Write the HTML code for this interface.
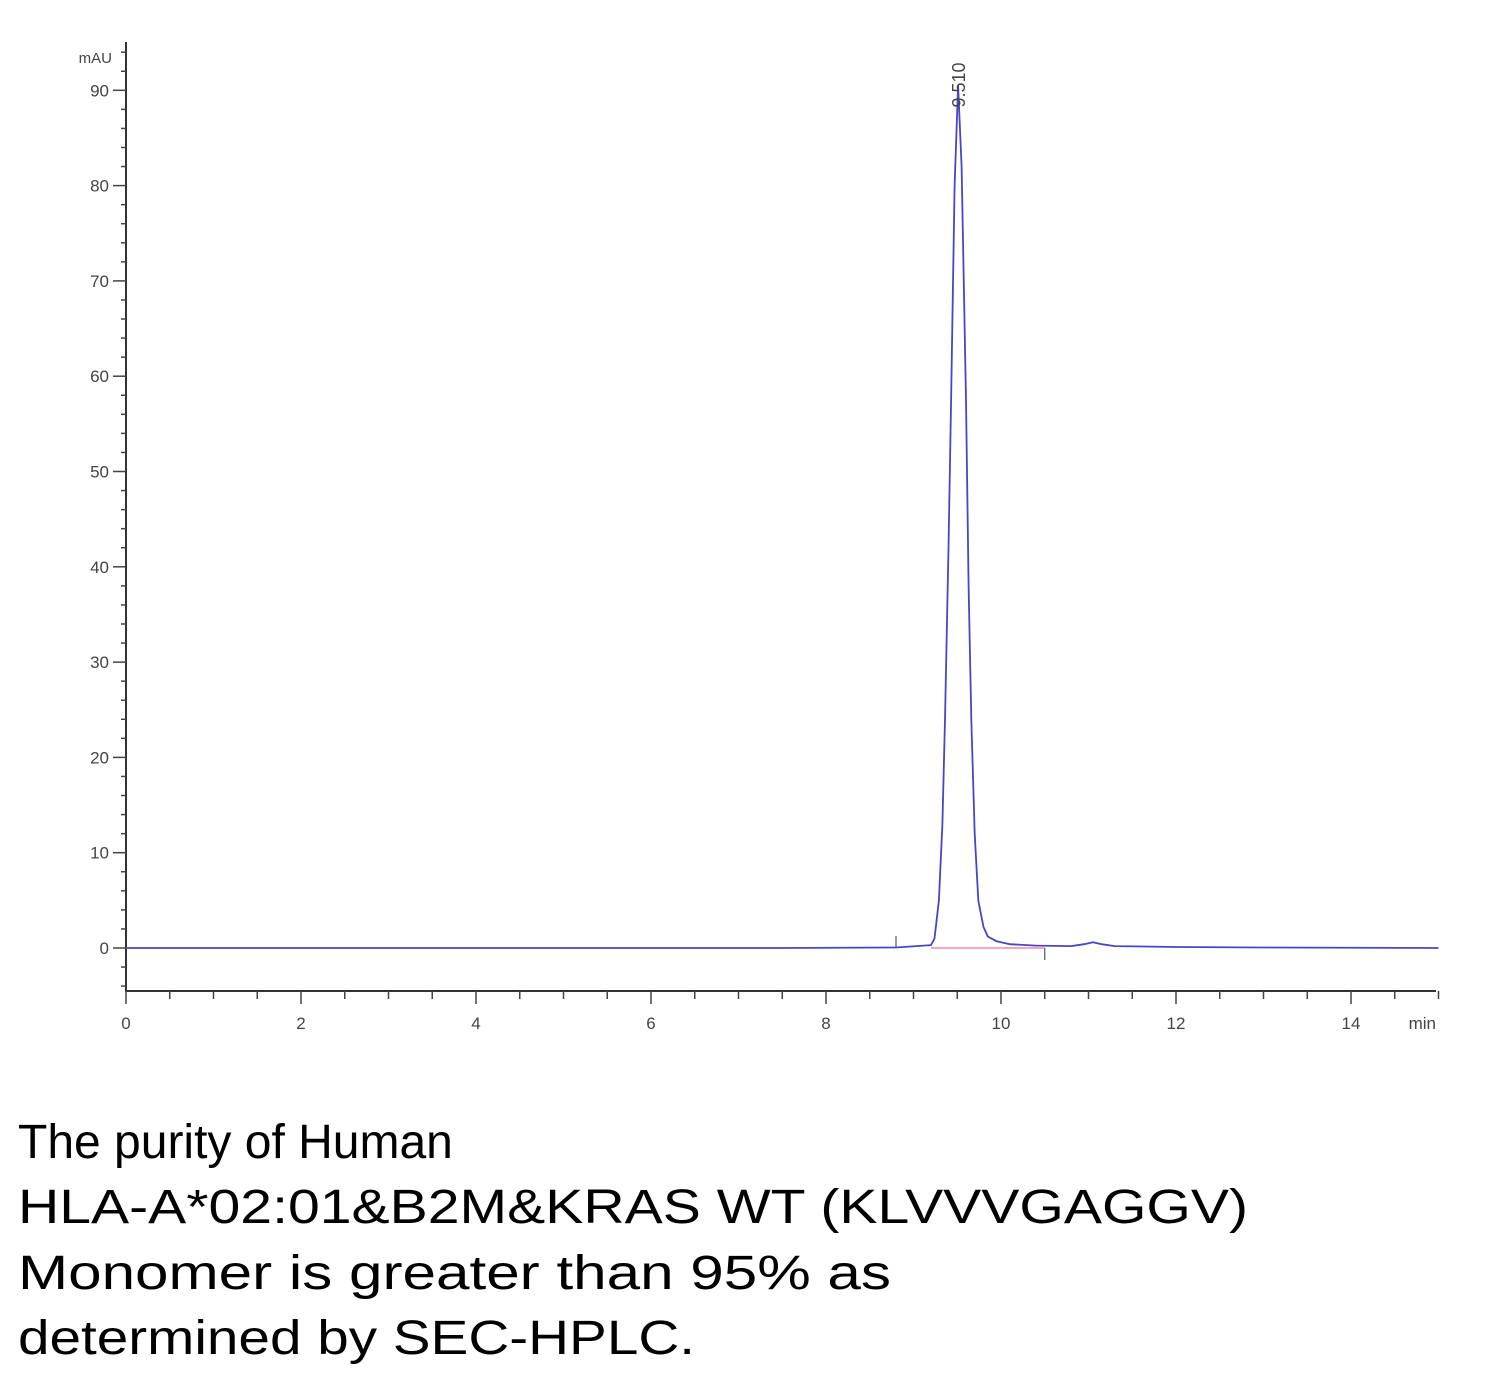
<!DOCTYPE html>
<html><head><meta charset="utf-8"><style>
body{margin:0;background:#fff;width:1500px;height:1384px;overflow:hidden}
svg{display:block}
</style></head><body>
<svg id="chart" width="1500" height="1384" xmlns="http://www.w3.org/2000/svg">
<g id="axes"></g>
<g id="plot"></g>
<g font-family="Liberation Sans, sans-serif" font-size="48" fill="#000">
<text x="18" y="1158">The purity of Human</text>
<text x="18" y="1223" textLength="1230" lengthAdjust="spacingAndGlyphs">HLA-A*02:01&amp;B2M&amp;KRAS WT (KLVVVGAGGV)</text>
<text x="18" y="1289" textLength="873" lengthAdjust="spacingAndGlyphs">Monomer is greater than 95% as</text>
<text x="18" y="1354" textLength="677" lengthAdjust="spacingAndGlyphs">determined by SEC-HPLC.</text>
</g>
</svg>
<script>
const times=[0,7.5,8.8,9.2,9.24,9.29,9.33,9.36,9.4,9.43,9.47,9.51,9.55,9.6,9.63,9.66,9.7,9.74,9.8,9.85,9.95,10.1,10.4,10.8,10.95,11.05,11.15,11.3,12,13,15];
const mAU=[0,0,0.05,0.3,1,5,13,24,42,57.5,80,90.5,82,57.5,38,24,12,5,2.2,1.2,0.7,0.4,0.25,0.2,0.4,0.6,0.4,0.2,0.1,0.05,0];
const xTicks=[0,2,4,6,8,10,12,14];
const yTicks=[0,10,20,30,40,50,60,70,80,90];
const peakLabel="9.510";const peakTime=9.51;const peakValue=90.5;
const X=t=>126+t*87.5;
const Y=v=>948-v*9.53;
const NS="http://www.w3.org/2000/svg";
function mk(p,tag,a){const e=document.createElementNS(NS,tag);for(const k in a)e.setAttribute(k,a[k]);p.appendChild(e);return e;}
const ax=document.getElementById('axes'),pl=document.getElementById('plot');
let e;
e=mk(ax,'line',{x1:126,y1:42,x2:126,y2:992,stroke:'#333','stroke-width':2});


e=mk(ax,'line',{x1:126,y1:991,x2:1436,y2:991,stroke:'#333','stroke-width':2});


for(let v=-4;v<=94;v+=2){const major=v%10===0&&v>=0;
 e=mk(ax,'line',{x1:major?113:121,y1:Y(v),x2:126,y2:Y(v),stroke:'#444','stroke-width':1.5});
 
 }
yTicks.forEach(v=>{e=mk(ax,'text',{x:109,y:Y(v)+6,'text-anchor':'end','font-family':'Liberation Sans, sans-serif','font-size':17,fill:'#444'});e.textContent=v;
 
 });
e=mk(ax,'text',{x:112,y:63,'text-anchor':'end','font-family':'Liberation Sans, sans-serif','font-size':15,fill:'#444'});e.textContent='mAU';


for(let t=0;t<=15;t+=0.5){const major=t%2===0;
 e=mk(ax,'line',{x1:X(t),y1:991,x2:X(t),y2:major?1004:999,stroke:'#444','stroke-width':1.5});
 
 }
xTicks.forEach(t=>{e=mk(ax,'text',{x:X(t),y:1029,'text-anchor':'middle','font-family':'Liberation Sans, sans-serif','font-size':17,fill:'#444'});e.textContent=t;
 
 });
e=mk(ax,'text',{x:1436,y:1029,'text-anchor':'end','font-family':'Liberation Sans, sans-serif','font-size':17,fill:'#444'});e.textContent='min';


e=mk(pl,'line',{x1:X(9.2),y1:Y(0),x2:X(10.5),y2:Y(0),stroke:'#f08aa8','stroke-width':1.5});


e=mk(pl,'line',{x1:X(8.8),y1:Y(0),x2:X(8.8),y2:Y(0)-12,stroke:'#555','stroke-width':1.2});


e=mk(pl,'line',{x1:X(10.5),y1:Y(0),x2:X(10.5),y2:Y(0)+12,stroke:'#555','stroke-width':1.2});


const d=times.map((t,i)=>(i?'L':'M')+X(t).toFixed(1)+' '+Y(mAU[i]).toFixed(1)).join(' ');
e=mk(pl,'path',{d:d,fill:'none',stroke:'#4a44c8','stroke-width':1.8,'stroke-linejoin':'round'});


e=mk(pl,'text',{transform:`translate(${X(peakTime)+7},${Y(peakValue)+22}) rotate(-90)`,'font-family':'Liberation Sans, sans-serif','font-size':18,fill:'#444'});e.textContent=peakLabel;


</script>
</body></html>
